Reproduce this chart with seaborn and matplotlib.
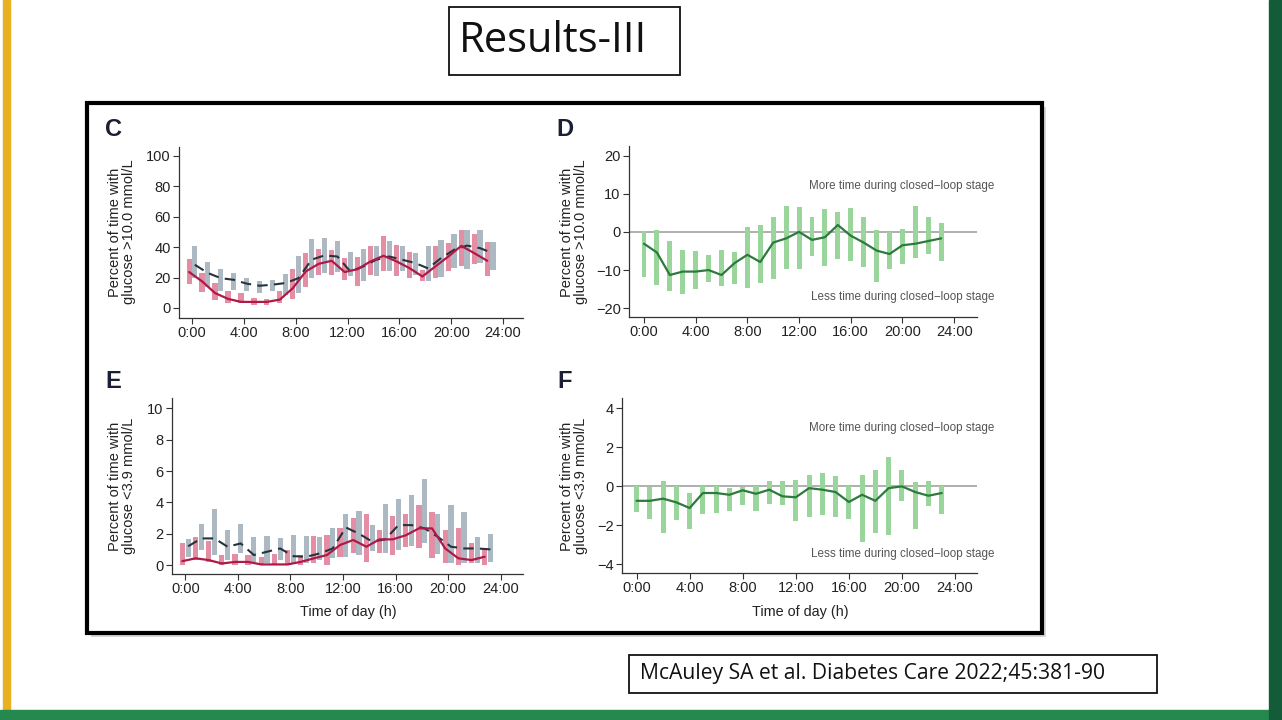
import numpy as np
import pandas as pd
import matplotlib
matplotlib.use("Agg")
import matplotlib.pyplot as plt
import matplotlib.patches as mpatches
import seaborn as sns

# ---------------- data ----------------
hours = list(range(24))
x_ticks = [0, 4, 8, 12, 16, 20, 24]
x_tick_labels = ["0:00", "4:00", "8:00", "12:00", "16:00", "20:00", "24:00"]

# Panel C: % time > 10.0 mmol/L  (closed-loop = pink, comparison = gray)
c_cl_med = [23.6, 17.5, 9.8, 6, 4, 4, 4, 5.5, 13, 24, 29, 31, 23.6, 25.5, 30.6, 34.3, 30.6, 26.2, 20.7, 27.3, 33.8, 40.8, 36, 31]
c_cl_q1 = [15.7, 10.3, 5, 3, 3, 1.7, 2, 3, 6, 14, 21.8, 21.8, 18.5, 14.6, 21.8, 24, 20.7, 19.6, 17.5, 19.6, 24, 27.3, 29, 21.2]
c_cl_q3 = [32, 22.9, 16.4, 11, 10, 6.3, 6, 11, 25.5, 36, 38.6, 37.8, 32.8, 33.8, 40.8, 47, 41.5, 37, 25, 40.4, 42.6, 51, 48.7, 43]
c_ref_med = [28.4, 23, 19.6, 18.5, 16, 14.6, 15.3, 16.4, 19.6, 31.7, 34.5, 33.8, 24, 27.3, 31.7, 33.8, 31.7, 29.5, 26, 32.8, 38.2, 41, 39.3, 36]
c_ref_q1 = [20, 14, 11, 12, 11, 10, 11, 8.7, 10, 19.6, 23, 23.4, 20.7, 17.5, 20.7, 24, 24, 21.8, 18, 20.3, 26, 25.5, 29.5, 25]
c_ref_q3 = [40.4, 30, 25.5, 23, 19.6, 18, 18.5, 22.5, 34, 45, 46, 43.7, 36.5, 38.6, 40.4, 43.7, 40.8, 36, 40.4, 44.8, 48.7, 51, 51.3, 43]

# Panel D: difference in % time > 10.0 mmol/L
d_med = [-3.1, -5.4, -11.3, -10.4, -10.4, -10, -11.3, -8.2, -6, -7.9, -2.8, -1.7, 0, -2.1, -1.4, 1.8, -1.0, -2.8, -4.9, -5.8, -3.5, -3.1, -2.4, -1.7]
d_lo = [-11.9, -13.9, -15.6, -16.2, -14.9, -13, -14.3, -13.6, -14.8, -13.3, -12.4, -9.8, -9.8, -6.2, -8.9, -7.1, -7.6, -9.1, -13, -9.8, -8.5, -6.9, -5.8, -7.5]
d_hi = [0.35, 0.5, -2.3, -4.7, -4.9, -6, -4.7, -5.2, 1.4, 1.8, 3.8, 6.9, 6.6, 3.8, 5.9, 5.3, 6.2, 4.0, 0.5, 0, 0.8, 6.9, 4.0, 2.3]

# Panel E: % time < 3.9 mmol/L
e_cl_med = [0.25, 0.43, 0.32, 0.1, 0.2, 0.2, 0.04, 0.04, 0.04, 0.2, 0.43, 0.64, 1.28, 1.6, 1.17, 1.64, 1.64, 1.9, 2.34, 2.34, 1.06, 0.43, 0.32, 0.53]
e_cl_q1 = [0, 0.32, 0.2, 0, 0, 0, 0, 0, 0, 0, 0.15, 0, 0.53, 0.74, 0.2, 0.8, 0.64, 1.17, 1.06, 0.43, 0.1, 0, 0.1, 0]
e_cl_q3 = [1.38, 1.8, 1.55, 0.64, 0.7, 0.64, 0.53, 0.7, 0.96, 0.64, 1.85, 1.9, 2.34, 2.98, 3.23, 2.23, 3.1, 3.23, 3.83, 3.4, 2.23, 2.34, 1.38, 1.1]
e_ref_med = [1.2, 1.7, 1.7, 1.17, 1.38, 0.64, 0.85, 1.06, 0.57, 0.53, 0.74, 1.06, 2.4, 2.0, 1.5, 1.64, 2.55, 2.55, 2.34, 1.8, 1.17, 1.06, 1.06, 1.0]
e_ref_q1 = [0.53, 0.96, 0.64, 0.32, 0.74, 0.2, 0.15, 0.32, 0.1, 0.15, 0.32, 0.43, 0.53, 0.64, 0.9, 0.74, 0.96, 1.2, 1.43, 0.7, 0.1, 0.1, 0.1, 0.2]
e_ref_q3 = [1.66, 2.6, 3.55, 2.23, 2.6, 1.8, 1.85, 1.7, 1.9, 1.85, 1.8, 2.34, 3.23, 3.45, 2.55, 3.9, 4.2, 4.5, 5.47, 3.23, 3.83, 3.4, 1.8, 1.98]

# Panel F: difference in % time < 3.9 mmol/L
f_med = [-0.74, -0.74, -0.63, -0.82, -1.11, -0.34, -0.34, -0.43, -0.2, -0.38, -0.17, -0.51, -0.56, -0.09, -0.17, -0.29, -0.8, -0.43, -0.74, -0.09, 0, -0.29, -0.48, -0.34]
f_lo = [-1.33, -1.67, -2.4, -1.7, -2.17, -1.4, -1.37, -1.28, -0.94, -1.28, -0.89, -0.97, -1.76, -1.57, -1.45, -1.59, -1.67, -2.87, -2.4, -2.48, -0.74, -2.2, -1.03, -1.4]
f_hi = [0, -0.03, 0.3, 0, -0.34, 0, 0, -0.09, -0.05, 0, 0.3, 0.3, 0.34, 0.6, 0.68, 0.51, 0.03, 0.6, 0.82, 1.5, 0.82, 0.2, 0.26, 0]

label_more = "More time during closed\u2212loop stage"
label_less = "Less time during closed\u2212loop stage"

# ---------------- styling ----------------
sns.set_theme(style="ticks")
plt.rcParams["font.family"] = ["Liberation Sans", "DejaVu Sans"]

W, H = 1282, 720
fig = plt.figure(figsize=(W / 100, H / 100), dpi=100)
fig.patch.set_facecolor("white")

PINK = "#e2849e"
GRAY = "#a5b3bd"
RED = "#ad1a47"
DARK = "#26323d"
GREEN_BAR = "#9ad69b"
GREEN_LINE = "#2c7a3c"
TXT = "#222222"


def px_rect(left, right, top, bottom):
    return [left / W, 1 - bottom / H, (right - left) / W, (bottom - top) / H]


def style_ax(ax, xlim, ylim, yticks):
    ax.set_xlim(*xlim)
    ax.set_ylim(*ylim)
    ax.set_xticks(x_ticks)
    ax.set_xticklabels(x_tick_labels)
    ax.set_yticks(yticks)
    ax.set_yticklabels([f"{t:g}".replace("-", "\u2212") for t in yticks])
    for s in ["top", "right"]:
        ax.spines[s].set_visible(False)
    for s in ["left", "bottom"]:
        ax.spines[s].set_linewidth(0.9)
        ax.spines[s].set_color("#333333")
    ax.tick_params(direction="out", length=4, width=0.8, colors="#333333",
                   labelsize=10.5, labelcolor=TXT, pad=2)
    ax.patch.set_alpha(0)
    ax.set_xlabel("")
    ax.set_ylabel("")


# background strips of the slide
fig.patches.append(mpatches.Rectangle((3 / W, 0), 7 / W, 1, transform=fig.transFigure,
                                      color="#e9b11f", zorder=-5))
fig.patches.append(mpatches.Rectangle((0, 0), 1, 10 / H, transform=fig.transFigure,
                                      color="#25884f", zorder=-5))
fig.patches.append(mpatches.Rectangle((1269 / W, 0), 13 / W, 1, transform=fig.transFigure,
                                      color="#145c39", zorder=-5))

# figure frame with shadow
fig.patches.append(mpatches.Rectangle((91 / W, 1 - 637 / H), 955 / W, 530 / H,
                                      transform=fig.transFigure, facecolor="#bdbdbd",
                                      edgecolor="none", zorder=-4, alpha=0.6))
fig.patches.append(mpatches.Rectangle((87 / W, 1 - 633 / H), 955 / W, 530 / H,
                                      transform=fig.transFigure, facecolor="white",
                                      edgecolor="black", linewidth=3, zorder=-3))

# title box
fig.patches.append(mpatches.Rectangle((449 / W, 1 - 75 / H), 231 / W, 68 / H,
                                      transform=fig.transFigure, facecolor="white",
                                      edgecolor="#111111", linewidth=1.3, zorder=-3))
fig.text(553 / W, 1 - 41 / H, "Results-III", ha="center", va="center",
         fontsize=30, color="#111111", family=["Open Sans", "DejaVu Sans"])

# citation box
fig.patches.append(mpatches.Rectangle((629 / W, 1 - 693 / H), 528 / W, 38 / H,
                                      transform=fig.transFigure, facecolor="white",
                                      edgecolor="#111111", linewidth=1.3, zorder=-3))
fig.text(640 / W, 1 - 674 / H, "McAuley SA et al. Diabetes Care 2022;45:381-90",
         ha="left", va="center", fontsize=15.2, color="#111111",
         family=["Open Sans", "DejaVu Sans"])

hours_arr = np.array(hours)
OFF = 0.22
BW = 0.4


def paired_panel(ax, cl_med, cl_q1, cl_q3, ref_med, ref_q1, ref_q3):
    cl_q1 = np.array(cl_q1); cl_q3 = np.array(cl_q3)
    ref_q1 = np.array(ref_q1); ref_q3 = np.array(ref_q3)
    ax.bar(hours_arr - OFF, cl_q3 - cl_q1, bottom=cl_q1, width=BW, color=PINK,
           alpha=0.92, linewidth=0, zorder=2)
    ax.bar(hours_arr + OFF, ref_q3 - ref_q1, bottom=ref_q1, width=BW, color=GRAY,
           alpha=0.92, linewidth=0, zorder=2)
    df_ref = pd.DataFrame({"x": hours_arr + OFF, "y": ref_med})
    df_cl = pd.DataFrame({"x": hours_arr - OFF, "y": cl_med})
    sns.lineplot(data=df_ref, x="x", y="y", ax=ax, color=DARK, linewidth=1.5,
                 zorder=3, linestyle=(0, (5, 3)))
    sns.lineplot(data=df_cl, x="x", y="y", ax=ax, color=RED, linewidth=1.6, zorder=4)


def diff_panel(ax, med, lo, hi, ytext_more, ytext_less):
    lo = np.array(lo); hi = np.array(hi)
    ax.axhline(0, color="#9a9a9a", linewidth=1.1, zorder=1)
    ax.bar(hours_arr, hi - lo, bottom=lo, width=0.38, color=GREEN_BAR, linewidth=0,
           zorder=2)
    df = pd.DataFrame({"x": hours_arr, "y": med})
    sns.lineplot(data=df, x="x", y="y", ax=ax, color=GREEN_LINE, linewidth=1.6, zorder=3)
    ax.text(1.05, ytext_more, label_more, transform=ax.get_yaxis_transform(),
            ha="right", va="center", fontsize=8.4, color="#555555", clip_on=False)
    ax.text(1.05, ytext_less, label_less, transform=ax.get_yaxis_transform(),
            ha="right", va="center", fontsize=8.4, color="#555555", clip_on=False)


# ---- Panel C ----
axC = fig.add_axes(px_rect(179, 523, 147, 318))
paired_panel(axC, c_cl_med, c_cl_q1, c_cl_q3, c_ref_med, c_ref_q1, c_ref_q3)
style_ax(axC, (-1.0, 25.54), (-6.57, 105.7), [0, 20, 40, 60, 80, 100])

# ---- Panel D ----
axD = fig.add_axes(px_rect(629, 977, 146, 317))
diff_panel(axD, d_med, d_lo, d_hi, 11.9, -17.1)
style_ax(axD, (-1.16, 25.77), (-22.3, 22.5), [-20, -10, 0, 10, 20])

# ---- Panel E ----
axE = fig.add_axes(px_rect(172, 523, 398, 574))
paired_panel(axE, e_cl_med, e_cl_q1, e_cl_q3, e_ref_med, e_ref_q1, e_ref_q3)
style_ax(axE, (-1.01, 25.7), (-0.57, 10.66), [0, 2, 4, 6, 8, 10])

# ---- Panel F ----
axF = fig.add_axes(px_rect(622, 977, 398, 573))
diff_panel(axF, f_med, f_lo, f_hi, 3.0, -3.48)
style_ax(axF, (-1.1, 25.66), (-4.44, 4.53), [-4, -2, 0, 2, 4])

# panel letters
for lx, ly, letter in [(113, 129, "C"), (565, 129, "D"), (113, 381, "E"), (565, 381, "F")]:
    fig.text(lx / W, 1 - ly / H, letter, ha="center", va="center", fontsize=17,
             fontweight="bold", color="#1a1f33")

# y labels
ylab_hi = "Percent of time with\nglucose >10.0 mmol/L"
ylab_lo = "Percent of time with\nglucose <3.9 mmol/L"
for lx, ly, lab in [(122, 232, ylab_hi), (574, 232, ylab_hi),
                    (122, 486, ylab_lo), (574, 486, ylab_lo)]:
    fig.text(lx / W, 1 - ly / H, lab, rotation=90, ha="center", va="center",
             multialignment="center", fontsize=10.5, color=TXT, linespacing=0.95)

# x labels
for lx in [348, 800]:
    fig.text(lx / W, 1 - 612 / H, "Time of day (h)", ha="center", va="center",
             fontsize=10.4, color=TXT)

fig.savefig("out.png", dpi=100, facecolor="white")
